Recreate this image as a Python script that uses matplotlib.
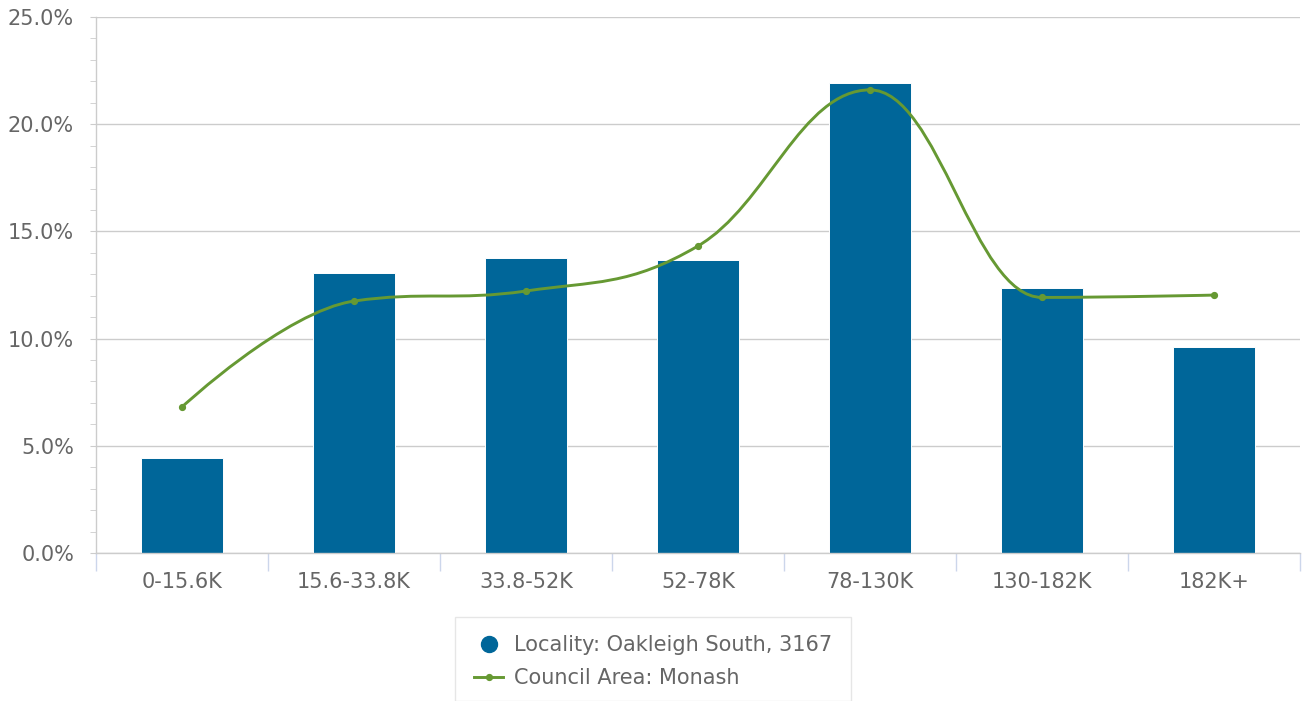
import numpy as np
import matplotlib
matplotlib.use("Agg")
import matplotlib.pyplot as plt
from matplotlib.path import Path
from matplotlib.patches import PathPatch, Rectangle
from matplotlib.lines import Line2D
from matplotlib.ticker import MultipleLocator, FuncFormatter

categories = ["0-15.6K", "15.6-33.8K", "33.8-52K", "52-78K", "78-130K", "130-182K", "182K+"]
locality = [4.45, 13.06, 13.78, 13.68, 21.93, 12.35, 9.63]
council = [6.81, 11.75, 12.22, 14.32, 21.6, 11.92, 12.03]
locality_name = "Locality: Oakleigh South, 3167"
council_name = "Council Area: Monash"

BAR = "#006699"
LINE = "#669933"
TXT = "#666666"
GRID = "#cccccc"
FS = 15

W, H = 1303, 701
fig = plt.figure(figsize=(W / 100, H / 100), dpi=100)
ax = fig.add_axes([96 / W, (H - 553) / H, (1300 - 96) / W, (553 - 17) / H])

x = np.arange(len(categories))
ax.bar(x, locality, width=0.482, color=BAR, edgecolor="white", linewidth=0.7, zorder=2)


def spline_path(xs, ys, smoothing=1.5):
    n = len(xs)
    denom = smoothing + 1
    lefts, rights = [], []
    for i in range(n):
        px, py = xs[i], ys[i]
        if 0 < i < n - 1:
            lx, ly = xs[i - 1], ys[i - 1]
            nx, ny = xs[i + 1], ys[i + 1]
            lcx = (smoothing * px + lx) / denom
            lcy = (smoothing * py + ly) / denom
            rcx = (smoothing * px + nx) / denom
            rcy = (smoothing * py + ny) / denom
            if rcx != lcx:
                corr = ((rcy - lcy) * (rcx - px)) / (rcx - lcx) + py - rcy
                lcy += corr
                rcy += corr
            if lcy > ly and lcy > py:
                lcy = max(ly, py)
                rcy = 2 * py - lcy
            elif lcy < ly and lcy < py:
                lcy = min(ly, py)
                rcy = 2 * py - lcy
            if rcy > ny and rcy > py:
                rcy = max(ny, py)
                lcy = 2 * py - rcy
            elif rcy < ny and rcy < py:
                rcy = min(ny, py)
                lcy = 2 * py - rcy
            lefts.append((lcx, lcy))
            rights.append((rcx, rcy))
        else:
            lefts.append((px, py))
            rights.append((px, py))
    verts = [(xs[0], ys[0])]
    codes = [Path.MOVETO]
    for i in range(1, n):
        verts += [rights[i - 1], lefts[i], (xs[i], ys[i])]
        codes += [Path.CURVE4] * 3
    return Path(verts, codes)


path = spline_path(list(x.astype(float)), council)
ax.add_patch(PathPatch(path, facecolor="none", edgecolor=LINE, lw=2.1, zorder=3,
                       capstyle="round", joinstyle="round"))
ax.plot(x, council, linestyle="none", marker="o", markersize=4.2, color=LINE, zorder=4)

ax.set_xlim(-0.5, len(categories) - 0.5)
ax.set_ylim(0, 25)
ax.yaxis.set_major_locator(MultipleLocator(5))
ax.yaxis.set_minor_locator(MultipleLocator(1))
ax.yaxis.set_major_formatter(FuncFormatter(lambda v, p: f"{v:.1f}%"))
ax.grid(axis="y", which="major", color=GRID, lw=1, zorder=0)
ax.set_axisbelow(True)

for s in ["top", "right"]:
    ax.spines[s].set_visible(False)
ax.spines["left"].set_color(GRID)
ax.spines["bottom"].set_color(GRID)
ax.spines["left"].set_linewidth(1)
ax.spines["bottom"].set_linewidth(1)

ax.tick_params(axis="y", which="major", length=4.3, color=GRID, labelcolor=TXT,
               labelsize=FS, pad=11.5)
ax.tick_params(axis="y", which="minor", length=4.3, color=GRID)

ax.set_xticks(x)
ax.set_xticklabels(categories)
ax.tick_params(axis="x", which="major", length=0, labelcolor=TXT, labelsize=FS, pad=13.5)
ax.set_xticks(np.arange(-0.5, len(categories), 1.0), minor=True)
ax.tick_params(axis="x", which="minor", length=13, color="#ccd6eb", width=1)

# legend box
fig.patches.append(Rectangle((455 / W, 1 - 701 / H), (851 - 455) / W, (701 - 617) / H,
                             transform=fig.transFigure, facecolor="white",
                             edgecolor="#e6e6e6", lw=1))
handles = [
    Line2D([], [], linestyle="none", marker="o", markersize=11.5, color=BAR),
    Line2D([], [], color=LINE, lw=2.1, marker="o", markersize=4.2),
]
leg = fig.legend(handles, [locality_name, council_name], loc="upper left",
                 bbox_to_anchor=(474 / W, 1 - 635 / H), frameon=False,
                 fontsize=FS, labelcolor=TXT, handlelength=1.4, handletextpad=0.5,
                 labelspacing=0.62, borderpad=0, borderaxespad=0)

fig.savefig("out.png", dpi=100)
